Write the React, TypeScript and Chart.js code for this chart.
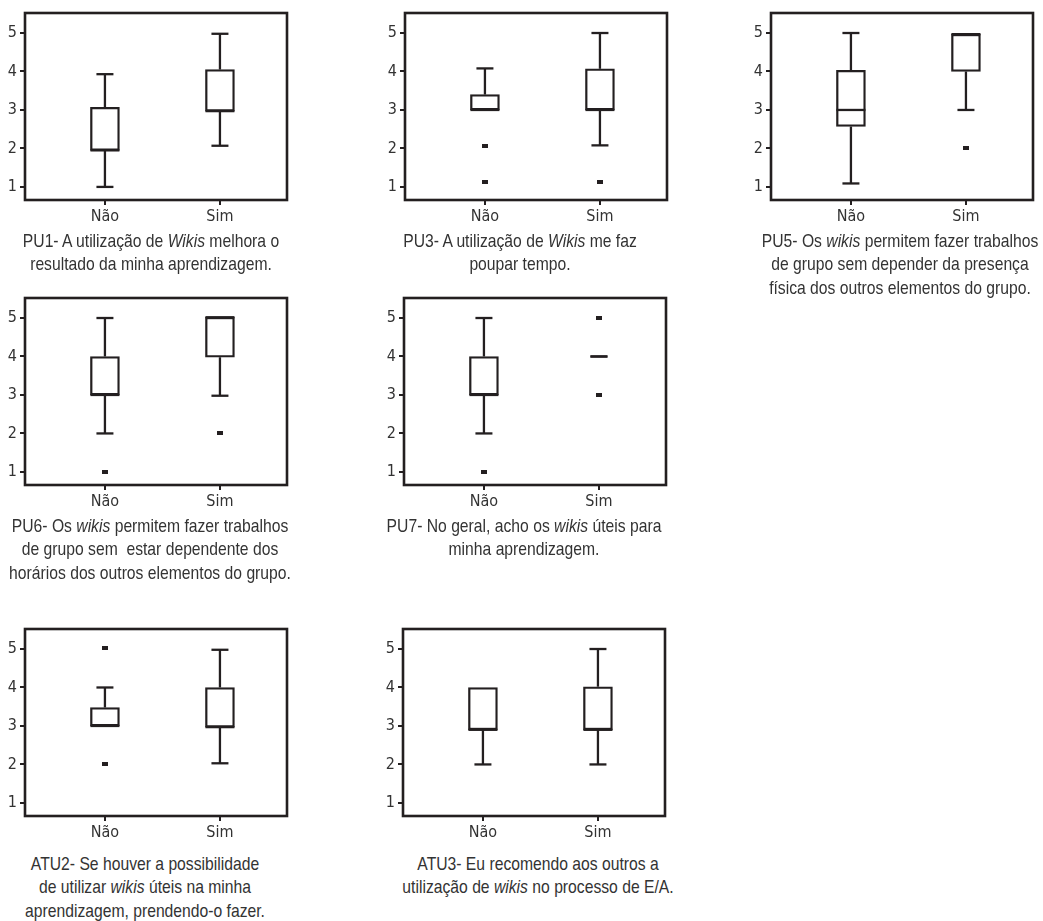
import React, { useEffect, useRef } from 'react';
import { Chart, registerables } from 'chart.js';

Chart.register(...registerables);

// ---------- data ----------
const groups = ['Não', 'Sim'];
const yTicks = [1, 2, 3, 4, 5];

// [q1, q3] per group (null = collapsed box)
const PU1_box = [[1.95, 3.07], [2.97, 4.05]];
const PU1_median = [1.95, 2.97];
const PU1_whisker = [[1.0, 3.93], [2.07, 4.98]];
const PU1_outliers: number[][] = [[], []];

const PU3_box = [[3.0, 3.4], [3.0, 4.07]];
const PU3_median = [3.0, 3.0];
const PU3_whisker = [[3.0, 4.08], [2.08, 5.0]];
const PU3_outliers = [[2.07, 1.13], [1.13]];

const PU5_box = [[2.57, 4.03], [4.0, 4.97]];
const PU5_median = [3.0, 4.97];
const PU5_whisker = [[1.09, 5.0], [3.0, 4.97]];
const PU5_outliers = [[], [2.0]];

const PU6_box = [[3.0, 4.0], [3.98, 5.02]];
const PU6_median = [3.0, 5.02];
const PU6_whisker = [[2.0, 5.0], [2.98, 5.02]];
const PU6_outliers = [[1.0], [2.0]];

const PU7_box = [[3.0, 4.0], null];
const PU7_median = [3.0, 4.0];
const PU7_whisker = [[2.0, 5.0], [4.0, 4.0]];
const PU7_outliers = [[1.0], [5.0, 3.0]];

const ATU2_box = [[3.0, 3.48], [2.97, 4.0]];
const ATU2_median = [3.0, 2.97];
const ATU2_whisker = [[3.0, 4.0], [2.03, 4.98]];
const ATU2_outliers = [[5.02, 2.0], []];

const ATU3_box = [[2.9, 4.0], [2.9, 4.02]];
const ATU3_median = [2.9, 2.9];
const ATU3_whisker = [[2.0, 4.0], [2.0, 5.0]];
const ATU3_outliers: number[][] = [[], []];

// ---------- styling ----------
const INK = '#231f20';
const TEXT = '#333333';
const TICK_FONT = '"DejaVu Sans Condensed", "Liberation Sans", sans-serif';
const CAPTION_FONT = '"Liberation Sans", Arial, sans-serif';
const AXIS_W = 25;
const PAD_TOP = 13;
const FRAME_W = 262;
const FRAME_H = 187;
const XAXIS_H = 35;
const PAD_RIGHT = 6;

type Stats = {
  box: (number[] | null)[];
  median: number[];
  whisker: number[][];
  outliers: number[][];
};

const boxExtras = {
  id: 'boxExtras',
  beforeDatasetsDraw(chart: any, _args: any, opts: any) {
    const { ctx } = chart;
    const xs = chart.scales.x;
    const ys = chart.scales.y;
    const { box, whisker } = opts as Stats;
    ctx.save();
    ctx.strokeStyle = INK;
    ctx.lineWidth = 2.3;
    ctx.lineCap = 'butt';
    const capHalf = 8.5;
    const seg = (x1: number, y1: number, x2: number, y2: number) => {
      ctx.beginPath();
      ctx.moveTo(x1, y1);
      ctx.lineTo(x2, y2);
      ctx.stroke();
    };
    whisker.forEach(([lo, hi], i) => {
      const x = xs.getPixelForValue(i + 1);
      const b = box[i];
      const q1 = b ? b[0] : lo;
      const q3 = b ? b[1] : hi;
      if (lo < q1) seg(x, ys.getPixelForValue(lo), x, ys.getPixelForValue(q1));
      if (hi > q3) seg(x, ys.getPixelForValue(q3), x, ys.getPixelForValue(hi));
      if (lo < q1 || !b) seg(x - capHalf, ys.getPixelForValue(lo), x + capHalf, ys.getPixelForValue(lo));
      if (hi > q3 || !b) seg(x - capHalf, ys.getPixelForValue(hi), x + capHalf, ys.getPixelForValue(hi));
    });
    ctx.restore();
  },
  afterDatasetsDraw(chart: any, _args: any, opts: any) {
    const { ctx } = chart;
    const xs = chart.scales.x;
    const ys = chart.scales.y;
    const { box, median } = opts as Stats;
    ctx.save();
    ctx.strokeStyle = INK;
    ctx.lineWidth = 2.3;
    median.forEach((m, i) => {
      if (!box[i]) return;
      const x = xs.getPixelForValue(i + 1);
      const y = ys.getPixelForValue(m);
      ctx.beginPath();
      ctx.moveTo(x - 14.5, y);
      ctx.lineTo(x + 14.5, y);
      ctx.stroke();
    });
    const a = chart.chartArea;
    ctx.lineWidth = 2.6;
    ctx.strokeRect(a.left, a.top, a.right - a.left, a.bottom - a.top);
    ctx.restore();
  },
};

function makeMarker() {
  const c = document.createElement('canvas');
  c.width = 6;
  c.height = 4;
  const g = c.getContext('2d')!;
  g.fillStyle = INK;
  g.fillRect(0, 0, 6, 4);
  return c;
}

function BoxPanel({ stats, left, top }: { stats: Stats; left: number; top: number }) {
  const ref = useRef<HTMLCanvasElement>(null);
  useEffect(() => {
    if (!ref.current) return;
    const marker = makeMarker();
    const boxData = stats.box
      .map((b, i) => ({ x: i + 1, y: b }))
      .filter((d) => d.y !== null);
    const outData = stats.outliers.flatMap((arr, i) => arr.map((v) => ({ x: i + 1, y: v })));
    const tickFont = { family: TICK_FONT, size: 16 };
    const chart = new Chart(ref.current, {
      type: 'bar',
      data: {
        datasets: [
          {
            type: 'bar',
            data: boxData as any,
            backgroundColor: '#ffffff',
            borderColor: INK,
            borderWidth: 2.3,
            borderSkipped: false,
            barThickness: 29,
          } as any,
          {
            type: 'scatter',
            data: outData,
            pointStyle: marker,
            pointRadius: 3,
            showLine: false,
          } as any,
        ],
      },
      options: {
        animation: false,
        responsive: false,
        devicePixelRatio: 1,
        layout: { padding: { top: PAD_TOP, right: PAD_RIGHT, left: 0, bottom: 0 } },
        plugins: {
          legend: { display: false },
          tooltip: { enabled: false },
          boxExtras: stats,
        } as any,
        scales: {
          x: {
            type: 'linear',
            min: 0.305,
            max: 2.583,
            offset: false,
            afterBuildTicks: (s: any) => {
              s.ticks = [{ value: 1 }, { value: 2 }];
            },
            afterFit: (s: any) => {
              s.height = XAXIS_H;
            },
            ticks: {
              callback: (v: any) => groups[Number(v) - 1] ?? '',
              font: tickFont,
              color: TEXT,
              padding: 2,
              maxRotation: 0,
              autoSkip: false,
            },
            grid: { drawOnChartArea: false, offset: false, tickLength: 5, color: INK, lineWidth: 2 },
            border: { display: false },
          },
          y: {
            type: 'linear',
            min: 0.66,
            max: 5.52,
            beginAtZero: false,
            afterBuildTicks: (s: any) => {
              s.ticks = yTicks.map((v) => ({ value: v }));
            },
            afterFit: (s: any) => {
              s.width = AXIS_W;
            },
            ticks: { font: tickFont, color: TEXT, padding: 3 },
            grid: { drawOnChartArea: false, tickLength: 5, color: INK, lineWidth: 2 },
            border: { display: false },
          },
        },
      } as any,
      plugins: [boxExtras as any],
    });
    return () => chart.destroy();
  }, [stats]);
  return (
    <canvas
      ref={ref}
      width={AXIS_W + FRAME_W + PAD_RIGHT}
      height={PAD_TOP + FRAME_H + XAXIS_H}
      style={{ position: 'absolute', left: left - AXIS_W, top: top - PAD_TOP }}
    />
  );
}

const panels: {
  key: string;
  stats: Stats;
  left: number;
  top: number;
  cx: number;
  cy: number;
  lines: React.ReactNode[];
}[] = [
  {
    key: 'PU1',
    stats: { box: PU1_box, median: PU1_median, whisker: PU1_whisker, outliers: PU1_outliers },
    left: 25, top: 13, cx: 151, cy: 240,
    lines: [<>PU1- A utilização de <i>Wikis</i> melhora o</>, <>resultado da minha aprendizagem.</>],
  },
  {
    key: 'PU3',
    stats: { box: PU3_box, median: PU3_median, whisker: PU3_whisker, outliers: PU3_outliers },
    left: 405, top: 13, cx: 520, cy: 240,
    lines: [<>PU3- A utilização de <i>Wikis</i> me faz</>, <>poupar tempo.</>],
  },
  {
    key: 'PU5',
    stats: { box: PU5_box, median: PU5_median, whisker: PU5_whisker, outliers: PU5_outliers },
    left: 771, top: 13, cx: 900, cy: 240,
    lines: [
      <>PU5- Os <i>wikis</i> permitem fazer trabalhos</>,
      <>de grupo sem depender da presença</>,
      <>física dos outros elementos do grupo.</>,
    ],
  },
  {
    key: 'PU6',
    stats: { box: PU6_box, median: PU6_median, whisker: PU6_whisker, outliers: PU6_outliers },
    left: 25, top: 298, cx: 150, cy: 525,
    lines: [
      <>PU6- Os <i>wikis</i> permitem fazer trabalhos</>,
      <>de grupo sem  estar dependente dos</>,
      <>horários dos outros elementos do grupo.</>,
    ],
  },
  {
    key: 'PU7',
    stats: { box: PU7_box, median: PU7_median, whisker: PU7_whisker, outliers: PU7_outliers },
    left: 404, top: 298, cx: 524, cy: 525,
    lines: [<>PU7- No geral, acho os <i>wikis</i> úteis para</>, <>minha aprendizagem.</>],
  },
  {
    key: 'ATU2',
    stats: { box: ATU2_box, median: ATU2_median, whisker: ATU2_whisker, outliers: ATU2_outliers },
    left: 25, top: 629, cx: 145, cy: 863,
    lines: [
      <>ATU2- Se houver a possibilidade</>,
      <>de utilizar <i>wikis</i> úteis na minha</>,
      <>aprendizagem, prendendo-o fazer.</>,
    ],
  },
  {
    key: 'ATU3',
    stats: { box: ATU3_box, median: ATU3_median, whisker: ATU3_whisker, outliers: ATU3_outliers },
    left: 403, top: 629, cx: 538, cy: 863,
    lines: [<>ATU3- Eu recomendo aos outros a</>, <>utilização de <i>wikis</i> no processo de E/A.</>],
  },
];

export default function App() {
  return (
    <div
      style={{
        position: 'absolute',
        left: 0,
        top: 0,
        width: 1043,
        height: 921,
        background: '#ffffff',
        overflow: 'hidden',
      }}
    >
      {panels.map((p) => (
        <React.Fragment key={p.key}>
          <BoxPanel stats={p.stats} left={p.left} top={p.top} />
          <div
            style={{
              position: 'absolute',
              left: p.cx - 200,
              width: 400,
              top: p.cy - 11.5,
              textAlign: 'center',
              fontFamily: CAPTION_FONT,
              fontSize: 19,
              lineHeight: '23.5px',
              color: TEXT,
              whiteSpace: 'pre',
              transform: 'scaleX(0.826)',
              transformOrigin: 'center top',
            }}
          >
            {p.lines.map((l, i) => (
              <div key={i}>{l}</div>
            ))}
          </div>
        </React.Fragment>
      ))}
    </div>
  );
}
